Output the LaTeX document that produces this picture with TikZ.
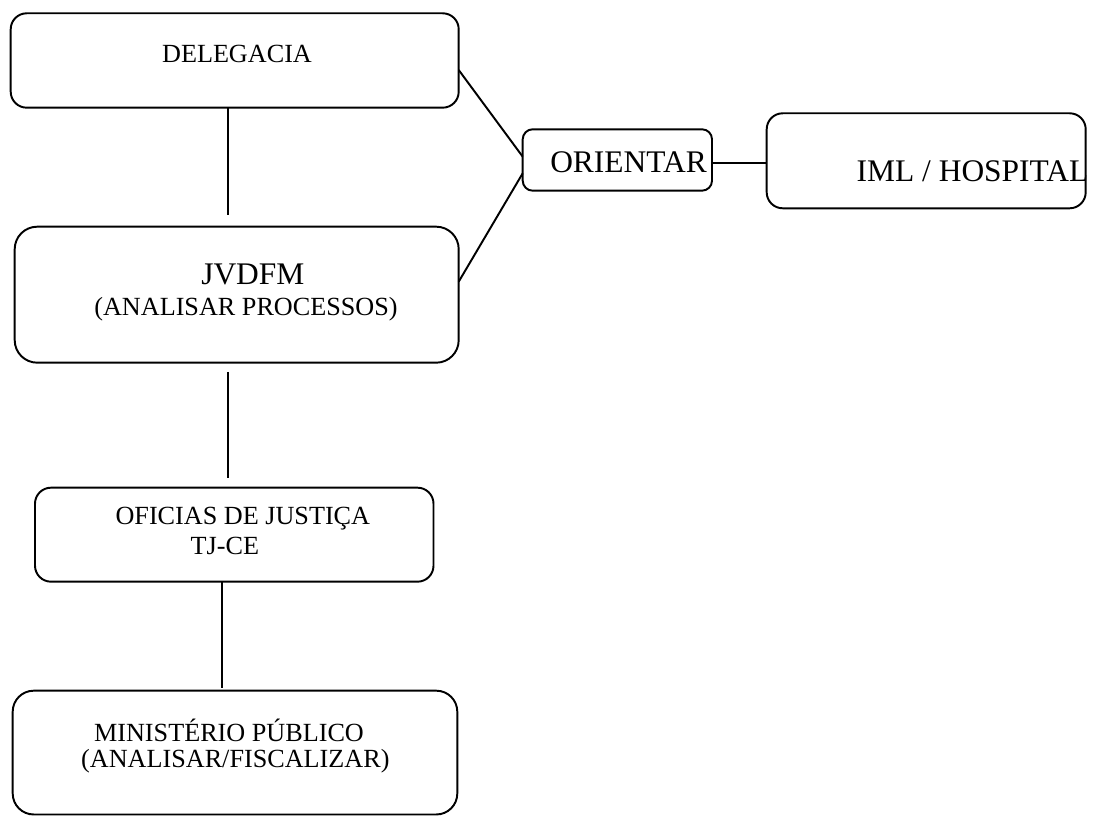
\documentclass[tikz,border=0pt]{standalone}
\usepackage{fontspec}
\setmainfont{Liberation Serif}
\usepackage{tikz}

\tikzset{
  caixa/.style={draw, line width=1.1pt, inner sep=0pt, outer sep=0pt},
  rotulo/.style={anchor=base, inner sep=0pt, font=\fontsize{14.9}{18}\selectfont},
  rotulogrande/.style={anchor=base, inner sep=0pt, font=\fontsize{17.9}{21}\selectfont},
  ligacao/.style={line width=1.1pt}
}

\begin{document}
\begin{tikzpicture}

\useasboundingbox (0,0) rectangle (21.9,16.32);

% left column
\node[caixa, rounded corners=0.32cm, minimum width=8.96cm, minimum height=1.888cm] (deleg) at (4.694,15.11) {};
\node[caixa, rounded corners=0.45cm, minimum width=8.88cm, minimum height=2.72cm] (jvdfm) at (4.734,10.426) {};
\node[caixa, rounded corners=0.32cm, minimum width=7.97cm, minimum height=1.88cm] (oficias) at (4.685,5.626) {};
\node[caixa, rounded corners=0.42cm, minimum width=8.892cm, minimum height=2.476cm] (mp) at (4.70,1.268) {};

% right side
\node[caixa, rounded corners=0.2cm, minimum width=3.786cm, minimum height=1.228cm] (orient) at (12.347,13.12) {};
\node[caixa, rounded corners=0.32cm, minimum width=6.38cm, minimum height=1.9cm] (iml) at (18.524,13.104) {};

% texts
\node[rotulo] (tdeleg) at (4.74,15.06) {DELEGACIA};
\node[rotulogrande] (tjvdfm) at (5.057,10.634) {JVDFM};
\node[rotulo] (tanalisar) at (4.92,10.0) {(ANALISAR PROCESSOS)};
\node[rotulo] (toficias) at (4.857,5.82) {OFICIAS DE JUSTIÇA};
\node[rotulo] (ttjce) at (4.497,5.22) {TJ-CE};
\node[rotulo] (tmp) at (4.58,1.486) {MINISTÉRIO PÚBLICO};
\node[rotulo] (tfiscal) at (4.707,0.96) {(ANALISAR/FISCALIZAR)};
\node[rotulogrande] (torient) at (12.57,12.866) {ORIENTAR};
\node[rotulogrande] (timl) at (19.45,12.686) {IML / HOSPITAL};

% connectors
\draw[ligacao, shorten >=0.234cm] ([xshift=-0.134cm]deleg.south) -- ([xshift=-0.174cm]jvdfm.north);
\draw[ligacao, shorten <=0.186cm, shorten >=0.194cm] ([xshift=-0.174cm]jvdfm.south) -- ([xshift=-0.125cm]oficias.north);
\draw[ligacao, shorten >=0.06cm] ([xshift=-0.245cm]oficias.south) -- ([xshift=-0.26cm]mp.north);
\draw[ligacao] ([yshift=-0.19cm]deleg.east) -- ([yshift=0.066cm]orient.west);
\draw[ligacao] ([yshift=0.26cm]jvdfm.east) -- ([yshift=-0.266cm]orient.west);
\draw[ligacao] ([yshift=-0.066cm]orient.east) -- ([yshift=-0.05cm]iml.west);

\end{tikzpicture}
\end{document}
